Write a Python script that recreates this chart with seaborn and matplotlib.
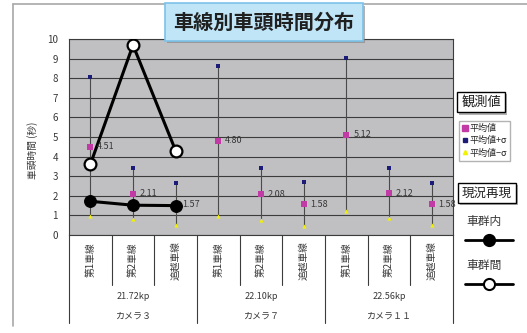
import numpy as np
import pandas as pd
import seaborn as sns
import matplotlib.pyplot as plt
import matplotlib.transforms as mtransforms
import matplotlib.patheffects as pe
from matplotlib.lines import Line2D

# ---- data ----
lanes = ["第1車線", "第2車線", "追越車線"] * 3
kp_labels = ["21.72kp", "22.10kp", "22.56kp"]
camera_labels = ["カメラ３", "カメラ７", "カメラ１１"]
mean_vals = [4.51, 2.11, 1.57, 4.80, 2.08, 1.58, 5.12, 2.12, 1.58]
plus_sigma = [8.05, 3.43, 2.64, 8.62, 3.42, 2.72, 9.05, 3.43, 2.67]
minus_sigma = [0.99, 0.80, 0.51, 0.99, 0.75, 0.46, 1.21, 0.87, 0.49]
within_group = [1.72, 1.52, 1.50]     # 車群内 (カメラ３)
between_group = [3.60, 9.69, 4.30]    # 車群間 (カメラ３)

sns.set_style("white")
plt.rcParams["font.family"] = ["Noto Sans CJK JP", "DejaVu Sans"]

obs = pd.DataFrame({
    "pos": np.arange(len(lanes)),
    "lane": lanes,
    "mean": mean_vals,
    "plus": plus_sigma,
    "minus": minus_sigma,
})
sim = pd.DataFrame({
    "pos": np.arange(len(within_group)),
    "within": within_group,
    "between": between_group,
})

W, H = 527, 333
fig = plt.figure(figsize=(W / 100, H / 100), dpi=100)
ax = fig.add_axes([69 / W, 1 - 235 / H, 384 / W, 196 / H])
ax.set_facecolor("#c0c0c2")

MEAN_C = "#c23aa6"
PLUS_C = "#1c1c78"
MINUS_C = "#f2f200"
TXT_C = "#383838"

# sigma range lines
ax.vlines(obs["pos"], obs["minus"], obs["plus"], color="#4a4a4a", lw=0.8, zorder=2)

sns.scatterplot(data=obs, x="pos", y="mean", marker="s", color=MEAN_C, s=24,
                linewidth=0, ax=ax, zorder=4, legend=False)
sns.scatterplot(data=obs, x="pos", y="plus", marker="s", color=PLUS_C, s=7,
                linewidth=0, ax=ax, zorder=4, legend=False)
sns.scatterplot(data=obs, x="pos", y="minus", marker="^", color=MINUS_C, s=9,
                linewidth=0, ax=ax, zorder=4, legend=False)

sns.lineplot(data=sim, x="pos", y="within", color="black", lw=2.2, marker="o",
             markersize=8.5, markerfacecolor="black", markeredgecolor="black",
             ax=ax, zorder=6, legend=False)
sns.lineplot(data=sim, x="pos", y="between", color="black", lw=2.2, marker="o",
             markersize=8.5, markerfacecolor="white", markeredgecolor="black",
             markeredgewidth=1.6, ax=ax, zorder=6, legend=False)

for p, m in zip(obs["pos"], obs["mean"]):
    ax.annotate(f"{m:.2f}", (p, m), xytext=(5, 0), textcoords="offset points",
                va="center", ha="left", fontsize=6.5, color=TXT_C, zorder=7)

ax.set_xlim(-0.5, len(lanes) - 0.5)
ax.set_ylim(0, 10)
ax.set_yticks(range(0, 11))
ax.yaxis.grid(True, color="#3c3c3c", lw=0.8)
ax.xaxis.grid(False)
ax.set_axisbelow(True)
ax.tick_params(axis="y", length=0, labelsize=7, pad=8, labelcolor=TXT_C)
ax.set_xticks([])
ax.set_xlabel("")
ax.set_ylabel("")
for s in ax.spines.values():
    s.set_color("#3c3c3c")
    s.set_linewidth(0.8)

fig.text(33 / W, 1 - 150 / H, "車頭時間 (秒)", rotation=90, ha="center",
         va="center", fontsize=7, color=TXT_C)

# multi-level category axis
tr = mtransforms.blended_transform_factory(ax.transData, ax.transAxes)
for k in range(len(lanes) + 1):
    x = k - 0.5
    depth = -0.449 if k % 3 == 0 else -0.255
    ax.plot([x, x], [0, depth], transform=tr, clip_on=False, color="#3c3c3c", lw=0.8)
for p, lane in zip(obs["pos"], obs["lane"]):
    ax.text(p, -0.128, lane, transform=tr, rotation=90, ha="center", va="center",
            fontsize=7, color=TXT_C)
for g in range(3):
    ax.text(g * 3 + 1, -0.316, kp_labels[g], transform=tr, ha="center", va="center",
            fontsize=6.5, color=TXT_C)
    ax.text(g * 3 + 1, -0.413, camera_labels[g], transform=tr, ha="center", va="center",
            fontsize=6.5, color=TXT_C)

# chart frame
fig.add_artist(Line2D([13 / W, 13 / W], [1 - 4 / H, 1 - 326 / H], color="#a8a8a8", lw=1.2))
fig.add_artist(Line2D([13 / W, 1.0], [1 - 4 / H, 1 - 4 / H], color="#a8a8a8", lw=1.2))

shadow = [pe.withSimplePatchShadow(offset=(1.5, -1.5), shadow_rgbFace="#808080", alpha=0.6)]

# title
title = fig.text(264 / W, 1 - 22 / H, "車線別車頭時間分布", ha="center", va="center",
                 fontsize=14.5, fontweight="bold", color="#202020", zorder=10,
                 bbox=dict(boxstyle="square,pad=0.4", fc="#bfe5f7", ec="#7cc2ea", lw=1.2))
title.get_bbox_patch().set_path_effects(shadow)

# legend: observed values
obs_box = fig.text(481 / W, 1 - 102 / H, "観測値", ha="center", va="center",
                   fontsize=9.5, color="#202020",
                   bbox=dict(boxstyle="square,pad=0.3", fc="white", ec="black", lw=1))
obs_box.get_bbox_patch().set_path_effects(shadow)
handles = [
    Line2D([], [], ls="none", marker="s", color=MEAN_C, markersize=4),
    Line2D([], [], ls="none", marker="s", color=PLUS_C, markersize=2.5),
    Line2D([], [], ls="none", marker="^", color=MINUS_C, markersize=3),
]
fig.legend(handles, ["平均値", "平均値+σ", "平均値−σ"], loc="upper left",
           bbox_to_anchor=(459 / W, 1 - 121 / H), frameon=True, fontsize=6.5,
           handlelength=0.6, handletextpad=0.2, borderpad=0.35, labelspacing=0.35,
           borderaxespad=0, edgecolor="#a0a0a0", fancybox=False)

# legend: simulation
sim_box = fig.text(487 / W, 1 - 193 / H, "現況再現", ha="center", va="center",
                   fontsize=9, color="#202020",
                   bbox=dict(boxstyle="square,pad=0.3", fc="white", ec="black", lw=1))
sim_box.get_bbox_patch().set_path_effects(shadow)
fig.text(484 / W, 1 - 221 / H, "車群内", ha="center", va="center", fontsize=8.5,
         color=TXT_C)
fig.text(484 / W, 1 - 265 / H, "車群間", ha="center", va="center", fontsize=8.5,
         color=TXT_C)
for yy, fc in [(240, "black"), (284, "white")]:
    fig.add_artist(Line2D([465 / W, 513 / W], [1 - yy / H] * 2, color="black", lw=2))
    fig.add_artist(Line2D([489 / W], [1 - yy / H], ls="none", marker="o",
                          markersize=8, markerfacecolor=fc, markeredgecolor="black",
                          markeredgewidth=1.5))

fig.savefig("out.png", dpi=100)
